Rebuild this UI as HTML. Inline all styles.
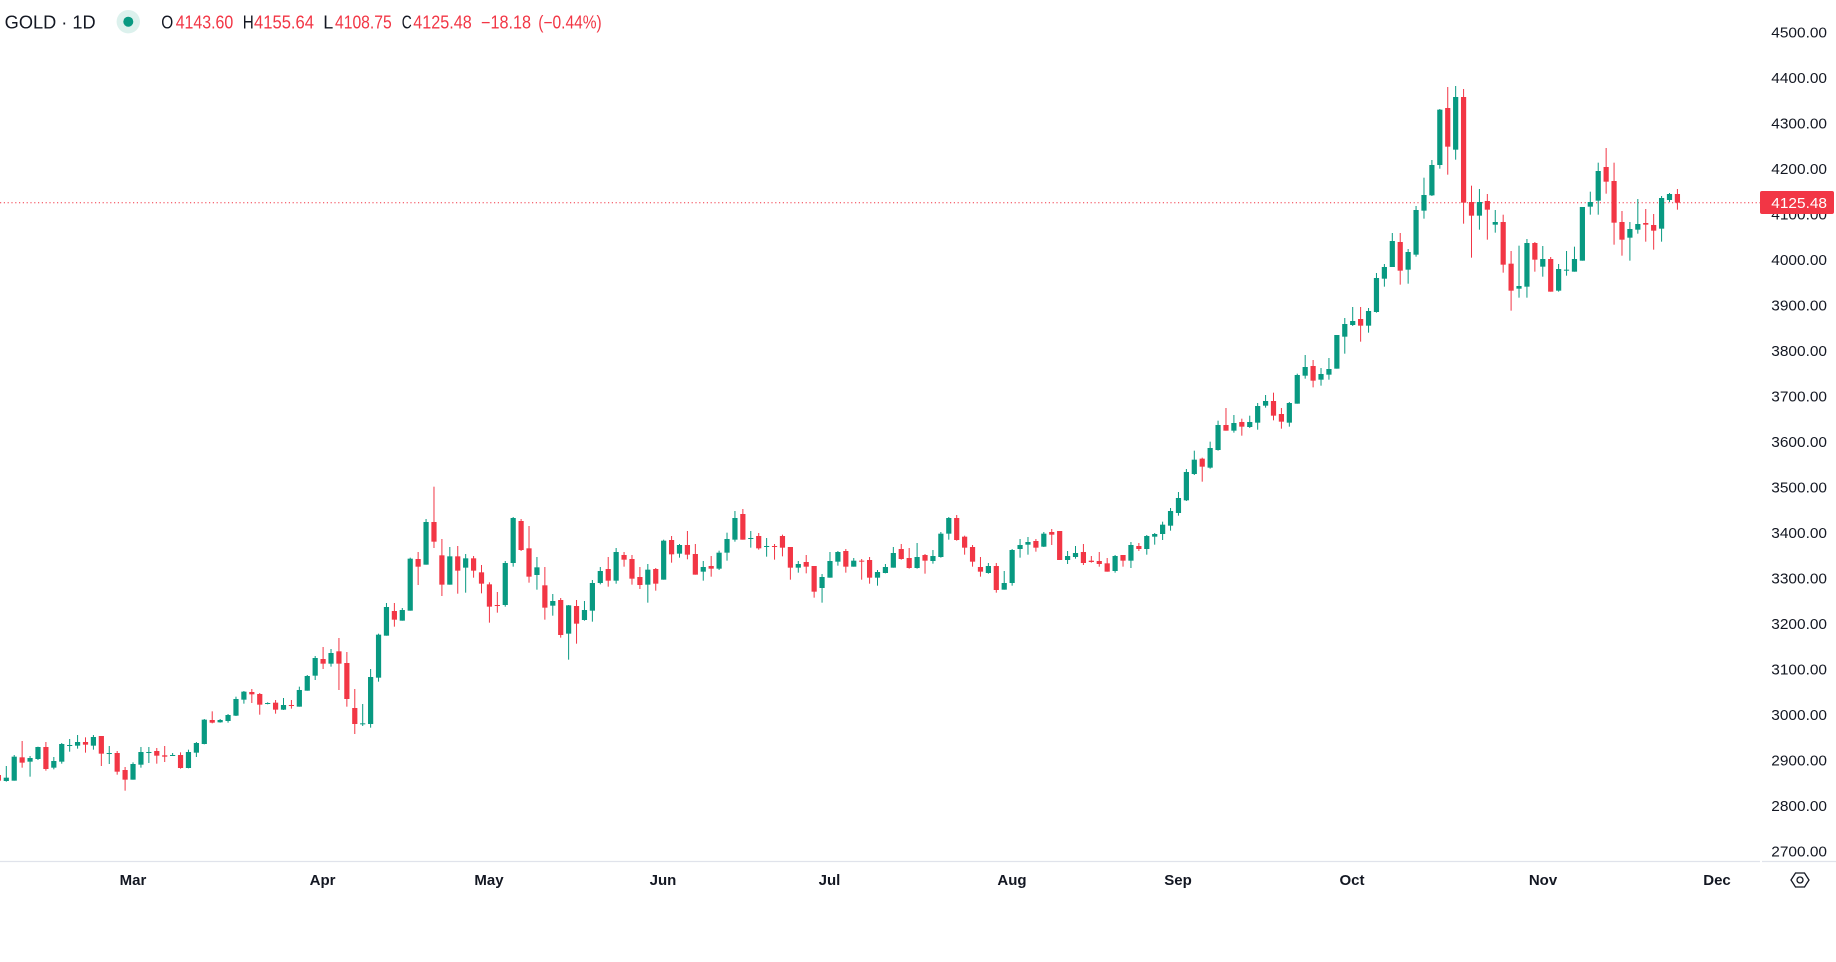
<!DOCTYPE html>
<html>
<head>
<meta charset="utf-8">
<style>
html,body{margin:0;padding:0;background:#ffffff;}
body{width:1836px;height:962px;overflow:hidden;}
svg{display:block;font-family:"Liberation Sans",Arial,sans-serif;}
</style>
</head>
<body>
<svg id="chart" width="1836" height="962" viewBox="0 0 1836 962" xmlns="http://www.w3.org/2000/svg">
<rect x="0" y="0" width="1836" height="962" fill="#ffffff"/>

<!-- last price dotted line -->
<line x1="0" y1="202.7" x2="1760" y2="202.7" stroke="#F23645" stroke-width="1" stroke-dasharray="1.2 2.6"/>

<g id="candles"></g>

<!-- header -->
<text x="4.7" y="28.6" font-size="18" fill="#131722" textLength="91" lengthAdjust="spacingAndGlyphs">GOLD · 1D</text>
<circle cx="128.3" cy="21.7" r="11.7" fill="#dcf1ed"/>
<circle cx="128.3" cy="21.7" r="5" fill="#089981"/>
<g font-size="18">
<text x="161.3" y="28.4" fill="#131722" textLength="12" lengthAdjust="spacingAndGlyphs">O</text>
<text x="175.7" y="28.4" fill="#F23645" textLength="57.6" lengthAdjust="spacingAndGlyphs">4143.60</text>
<text x="242.7" y="28.4" fill="#131722" textLength="11" lengthAdjust="spacingAndGlyphs">H</text>
<text x="254" y="28.4" fill="#F23645" textLength="60" lengthAdjust="spacingAndGlyphs">4155.64</text>
<text x="323.3" y="28.4" fill="#131722" textLength="10" lengthAdjust="spacingAndGlyphs">L</text>
<text x="335" y="28.4" fill="#F23645" textLength="56.7" lengthAdjust="spacingAndGlyphs">4108.75</text>
<text x="401.7" y="28.4" fill="#131722" textLength="10" lengthAdjust="spacingAndGlyphs">C</text>
<text x="413.3" y="28.4" fill="#F23645" textLength="58.4" lengthAdjust="spacingAndGlyphs">4125.48</text>
<text x="481" y="28.4" fill="#F23645" textLength="50" lengthAdjust="spacingAndGlyphs">−18.18</text>
<text x="538.3" y="28.4" fill="#F23645" textLength="63.4" lengthAdjust="spacingAndGlyphs">(−0.44%)</text>
</g>

<!-- price axis labels -->
<g font-size="14.5" fill="#131722" text-anchor="end">
<text x="1827" y="37.7" textLength="55.7" lengthAdjust="spacingAndGlyphs">4500.00</text>
<text x="1827" y="83.2" textLength="55.7" lengthAdjust="spacingAndGlyphs">4400.00</text>
<text x="1827" y="128.7" textLength="55.7" lengthAdjust="spacingAndGlyphs">4300.00</text>
<text x="1827" y="174.2" textLength="55.7" lengthAdjust="spacingAndGlyphs">4200.00</text>
<text x="1827" y="219.7" textLength="55.7" lengthAdjust="spacingAndGlyphs">4100.00</text>
<text x="1827" y="265.2" textLength="55.7" lengthAdjust="spacingAndGlyphs">4000.00</text>
<text x="1827" y="310.7" textLength="55.7" lengthAdjust="spacingAndGlyphs">3900.00</text>
<text x="1827" y="356.2" textLength="55.7" lengthAdjust="spacingAndGlyphs">3800.00</text>
<text x="1827" y="401.7" textLength="55.7" lengthAdjust="spacingAndGlyphs">3700.00</text>
<text x="1827" y="447.2" textLength="55.7" lengthAdjust="spacingAndGlyphs">3600.00</text>
<text x="1827" y="492.7" textLength="55.7" lengthAdjust="spacingAndGlyphs">3500.00</text>
<text x="1827" y="538.2" textLength="55.7" lengthAdjust="spacingAndGlyphs">3400.00</text>
<text x="1827" y="583.7" textLength="55.7" lengthAdjust="spacingAndGlyphs">3300.00</text>
<text x="1827" y="629.2" textLength="55.7" lengthAdjust="spacingAndGlyphs">3200.00</text>
<text x="1827" y="674.7" textLength="55.7" lengthAdjust="spacingAndGlyphs">3100.00</text>
<text x="1827" y="720.2" textLength="55.7" lengthAdjust="spacingAndGlyphs">3000.00</text>
<text x="1827" y="765.7" textLength="55.7" lengthAdjust="spacingAndGlyphs">2900.00</text>
<text x="1827" y="811.2" textLength="55.7" lengthAdjust="spacingAndGlyphs">2800.00</text>
<text x="1827" y="856.7" textLength="55.7" lengthAdjust="spacingAndGlyphs">2700.00</text>
</g>

<!-- last price label -->
<rect x="1760" y="191" width="74" height="23" rx="2" fill="#F23645"/>
<text x="1827" y="208" font-size="14.5" fill="#ffffff" text-anchor="end" textLength="55.7" lengthAdjust="spacingAndGlyphs">4125.48</text>

<!-- time axis -->
<line x1="0" y1="861.5" x2="1760" y2="861.5" stroke="#e0e3eb" stroke-width="1.2"/>
<line x1="1762" y1="861.5" x2="1836" y2="861.5" stroke="#e0e3eb" stroke-width="1.2"/>
<g font-size="15" font-weight="bold" fill="#131722" text-anchor="middle">
<text x="133" y="885">Mar</text>
<text x="322.6" y="885">Apr</text>
<text x="489" y="885">May</text>
<text x="663" y="885">Jun</text>
<text x="829.5" y="885">Jul</text>
<text x="1012" y="885">Aug</text>
<text x="1178" y="885">Sep</text>
<text x="1352" y="885">Oct</text>
<text x="1543" y="885">Nov</text>
<text x="1717" y="885">Dec</text>
</g>
<!-- settings icon -->
<polygon points="1791,880 1795.5,873 1804.5,873 1809,880 1804.5,887 1795.5,887" fill="none" stroke="#131722" stroke-width="1.3"/>
<circle cx="1800" cy="880" r="3" fill="none" stroke="#131722" stroke-width="1.3"/>
</svg>

<script>
const segs=[
[640,`r 405 422 405 422
g 413 423 378 425
g 350 422 345 422
r 352 368 303 383
g 354 365 348 410
g 321 357 320 360
r 321 387 306 392
g 363 383 351 388
g 312 365 309 371
g 315 318 297 335
g 306 317 285 326
r 306 314 292 338
g 291 317 285 329
r 288 341 288 378
g 339 341 318 372
r 339 395 333 404
r 390 419 381 452
g 372 419 367 419
g 336 374 321 383
g 336 338 321 369
r 333 347 324 371
r 346 350 318 366
g 345 347 339 347
r 345 384 337 386
g 336 384 329 385
g 309 338 306 351
g 239 312 237 313
r 240 248 214 250
g 240 247 237 248
g 225 243 222 248
g 177 227 170 228
g 155 179 153 191
r 156 163 147 189
r 162 194 159 224
g 189 191 187 193
r 188 209 180 221
g 195 209 174 210
r 195 197 180 206`],
[470,`g 660 710 650 710
g 618 662 615 662
g 564 617 558 630
r 567 581 531 597
g 549 581 537 590
r 544 581 504 660
r 579 687 546 710
r 714 762 657 792
g 760 762 702 768
g 621 762 597 773
g 494 623 491 635
g 411 497 399 497
r 423 449 399 470
g 420 452 414 452
g 266 422 263 422
r 267 290 246 345
g 156 284 147 284
r 156 215 50 234
r 256 344 207 378
g 259 344 231 344
r 259 302 228 371
g 265 293 252 368
r 265 302 258 323
r 307 341 285 370
r 343 410 337 458
r 405 407 366 428
g 279 405 273 410
g 144 279 141 290
r 153 240 147 243
r 235 320 168 338
g 292 315 261 359
r 346 413 291 449
g 393 407 372 437
r 390 495 384 503
g 406 491 405 569
r 408 461 390 521
g 420 450 393 452
g 339 422 330 455
g 303 339 291 343
r 297 332 261 350
g 246 332 234 341
r 255 269 246 290
r 267 326 255 344
r 321 345 291 357
g 299 344 282 398
r 297 341 294 362
g 212 329 209 329
r 210 253 198 278
g 225 251 222 263
r 225 254 183 268`],
[490,`r 192 254 162 254
g 231 245 213 272
r 228 236 198 260
g 188 236 182 240
g 147 188 128 212
g 84 149 63 155
r 72 149 57 149
g 144 146 123 173
r 138 175 129 179
g 168 170 144 200
r 168 170 162 209
r 138 173 134 199
r 171 233 171 269
g 222 233 213 248
r 216 230 195 250
r 228 305 228 323
g 261 294 252 338
g 213 263 186 263
g 186 215 183 227
r 183 230 177 248
g 212 230 204 230
r 212 215 207 269
r 210 263 201 281
g 246 263 240 287
g 231 249 222 250
g 189 233 171 233
r 177 207 162 209
r 204 234 174 236
g 201 234 159 236
r 195 212 192 251
g 198 213 180 221
g 131 201 126 203
g 84 131 81 149
r 84 150 75 152
r 140 173 137 194
r 171 215 165 230
r 231 245 201 260
g 228 249 219 251
r 228 300 219 308
g 279 299 243 299
g 180 279 177 287
g 165 177 147 203
g 156 164 141 194
r 153 173 147 185
g 131 170 126 171
r 126 134 117 165
r 123 210 123 210
g 198 210 183 222
g 189 201 168 206
r 186 219 162 225
r 212 216 198 218
r 213 222 186 230`],
[190,`r 1120 1145 1104 1145
g 1098 1143 1095 1148
r 1095 1112 1095 1130
g 1065 1112 1056 1134
r 1068 1077 1059 1083
g 1038 1077 1035 1094
g 1032 1040 1029 1064
g 1004 1032 995 1050
g 963 1007 954 1022
g 924 969 906 977
g 846 931 837 933
g 809 852 782 855
r 806 830 803 875
g 774 833 755 836
g 705 780 692 782
r 705 722 654 722
g 699 722 675 728
r 696 710 686 737
g 696 711 677 714
g 648 698 639 719
g 633 647 615 653
r 633 677 608 691
r 672 695 654 716
g 639 698 636 710
g 555 641 551 641
g 531 557 495 566
r 528 572 510 592
g 552 569 534 587
g 537 554 504 569
g 435 536 435 536
g 402 440 384 491
g 393 405 351 408
r 387 407 351 455
g 363 407 354 428
g 264 366 249 368
g 231 266 222 290
g 153 231 129 231
r 156 242 129 284
g 186 239 177 281
g 60 194 48 200`],
[70,`g 375 422 323 446
g 285 376 270 378
g 119 285 117 296
r 114 230 51 314
g 81 239 48 269
r 81 398 57 461
r 396 437 347 563
g 396 437 357 479
r 393 419 372 509
g 456 464 420 488
r 456 584 434 608
r 581 662 543 722
g 648 656 527 683
g 519 650 507 683
r 519 569 516 605
g 567 590 528 620
r 567 665 561 665
g 597 662 582 665
g 599 602 543 617
g 567 605 530 605
g 411 572 411 572
g 396 410 365 434
g 303 392 278 434
r 291 335 234 371
r 333 458 278 524
r 456 509 423 557
g 477 503 456 572
g 462 479 387 491
r 459 464 417 515
r 465 482 432 539
g 384 476 378 515
g 372 390 369 396
r 372 398 357 419`]
];
let k=1, out='';
for(const [y0,txt] of segs){
  for(const line of txt.trim().split('\n')){
    const p=line.trim().split(/\s+/);
    const col=p[0]==='g'?'#089981':'#F23645';
    const bt=y0+(+p[1])/3, bb=y0+(+p[2])/3, wt=y0+(+p[3])/3, wb=y0+(+p[4])/3;
    const x=6.3+7.92*(k-2);
    out+='<rect x="'+(x-0.5).toFixed(2)+'" y="'+wt.toFixed(2)+'" width="1" height="'+Math.max(1,wb-wt).toFixed(2)+'" fill="'+col+'"/>';
    out+='<rect x="'+(x-2.6).toFixed(2)+'" y="'+bt.toFixed(2)+'" width="5.2" height="'+Math.max(1,bb-bt).toFixed(2)+'" fill="'+col+'"/>';
    k++;
  }
}
document.getElementById('candles').innerHTML=out;
</script>
</body>
</html>
